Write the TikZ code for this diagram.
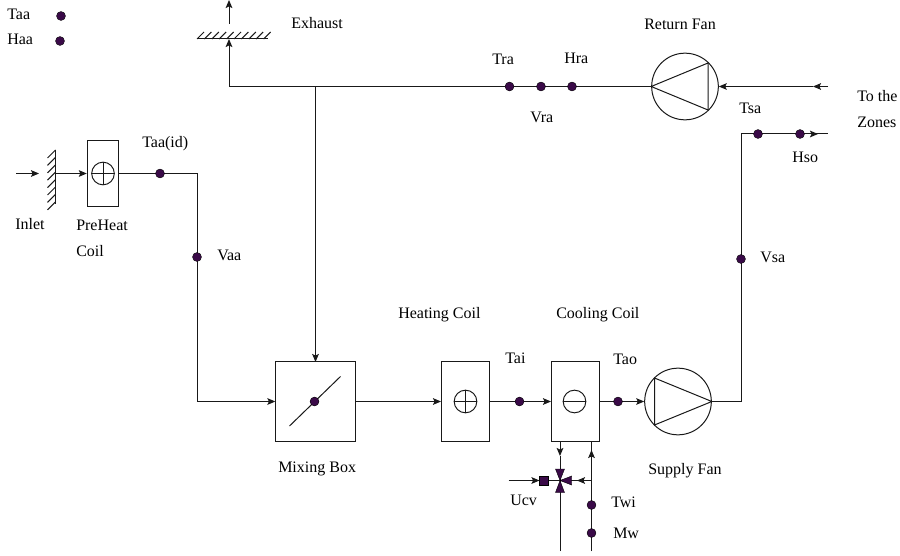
\documentclass[tikz,border=0pt]{standalone}
\usepackage{fontspec}
\setmainfont{Liberation Serif}
\usetikzlibrary{arrows.meta,calc}
\definecolor{dotcol}{HTML}{3A0A48}
\tikzset{
  wire/.style={draw=black!90,line width=0.75pt},
  arr/.style={wire,-{Stealth[length=6pt,width=5pt,inset=1.2pt]}},
  lab/.style={anchor=base west,inner sep=0pt,yshift=-0.5pt,font=\fontsize{12}{14}\selectfont},
  sensor/.style={circle,fill=dotcol,draw=black,line width=0.3pt,inner sep=0pt,minimum size=6.7pt},
  coil/.style={rectangle,wire,inner sep=0pt,minimum width=36pt,minimum height=59.5pt},
  ring/.style={circle,wire,inner sep=0pt,minimum size=17pt},
  fan/.style={circle,wire,inner sep=0pt,minimum size=50pt},
  vtri/.style={fill=dotcol,draw=black,line width=0.3pt},
}
\begin{document}
\begin{tikzpicture}[x=0.75pt,y=-0.75pt]
\useasboundingbox (0,0) rectangle (900,556);
% labels
\foreach \n/\x/\y/\t in {
 lTaa/7/19/Taa, lHaa/7/44/Haa, lEx/291/28/Exhaust, lTid/142/147/Taa(id), lIn/15/229/Inlet,
 lPre/76/230/PreHeat, lCoil/76/256/Coil, lVaa/217/260/Vaa, lRF/644/29/Return Fan,
 lTra/492/64/Tra, lHra/564/63/Hra, lVra/530/122/Vra, lTsa/739/113/Tsa, lTo/857/101/To the,
 lZo/857/127/Zones, lHso/792/162/Hso, lTai/505/363/Tai, lTao/613/364/Tao, lSF/648/474/Supply Fan,
 lMB/278/472/Mixing Box, lUcv/510/505/Ucv, lTwi/611/507/Twi, lMw/613/538/Mw,
 lHC/398/318/Heating Coil, lCC/556/318/Cooling Coil, lVsa/760/262/Vsa}
  \node[lab] (\n) at (\x,\y) {\t};
% components
\node[coil,minimum width=23.6pt,minimum height=50.2pt] (pre) at (103,173.5) {};
\node[ring] (preR) at (103,173.5) {};
\node[coil,minimum width=59.5pt] (mix) at (315.5,401.5) {};
\node[coil] (hc) at (465.5,401.5) {};
\node[ring] (hcR) at (465.5,401.5) {};
\node[coil] (cc) at (575.5,401.5) {};
\node[ring] (ccR) at (574.5,401.5) {};
\node[fan] (rf) at (685,86.5) {};
\node[fan] (sf) at (678,401.5) {};
% coil symbols
\draw[wire] (preR.north) -- (preR.south) (preR.west) -- (preR.east);
\draw[wire] (hcR.north) -- (hcR.south) (hcR.west) -- (hcR.east);
\draw[wire] (ccR.west) -- (ccR.east);
% fan triangles
\draw[wire] (rf.west) -- (708,63) -- (708,110) -- cycle;
\draw[wire] (sf.east) -- (654.5,378) -- (654.5,425) -- cycle;
% damper
\coordinate (dA) at (289.5,426);
\coordinate (dB) at (340.5,376.5);
\draw[wire] (dA) -- (dB);
% free ends and corners
\coordinate (exTop) at (229,0);
\coordinate (exLow) at (229,24);
\coordinate (exPlate) at (229,39);
\coordinate (exL) at (197,39);
\coordinate (exR) at (268,39);
\coordinate (exCorner) at (229,86.5);
\coordinate (tee) at (315.5,86.5);
\coordinate (rfEnd) at (828,86.5);
\coordinate (rfMid) at (813,86.5);
\coordinate (inFree) at (16,173.5);
\coordinate (inTip) at (39,173.5);
\coordinate (inPlate) at (55.5,173.5);
\coordinate (inT) at (55.5,150);
\coordinate (inB) at (55.5,204);
\coordinate (c1) at (197,173.5);
\coordinate (c2) at (197,401.5);
\coordinate (c3) at (741,401.5);
\coordinate (c4) at (741,134);
\coordinate (zTip) at (818,134);
\coordinate (zEnd) at (828,134);
\coordinate (vC) at (560,480.5);
\coordinate (ccL) at (560,441);
\coordinate (vTop) at (560,456);
\coordinate (vBot) at (560,551);
\coordinate (retB) at (591.5,551);
\coordinate (retT) at (591.5,441);
\coordinate (retM) at (591.5,450);
\coordinate (retJ) at (591.5,480.5);
\coordinate (retA) at (577,480.5);
\coordinate (uFree) at (508.5,480.5);
\coordinate (mixT) at (315.5,362);
% sensors
\foreach \n/\x/\y in {
 sTaa/61/16, sHaa/60/41, sTid/160/173.5, sVaa/197/257, sTra/509.5/86.5, sVra/541/86.5, sHra/572/86.5,
 sTsa/758/134, sHso/800/134, sVsa/741/259, sTai/519.5/401.5, sTao/618/401.5,
 sMix/314.5/401.5, sTwi/591.5/505, sMw/591.5/533}
  \coordinate (\n) at (\x,\y);
% connectors
\draw[arr] (exLow) -- (exTop);
\draw[arr] (exCorner) -- (exPlate);
\draw[wire] (exL) -- (exR);
\foreach \i in {0,...,9} \draw[wire] ($(exL)+(\i*7.4,0)$) -- ++(7,-7);
\draw[wire] (exCorner) -- (rf.west);
\draw[arr] (tee) -- (mixT);
\draw[arr] (rfEnd) -- (rfMid);
\draw[arr] (rfMid) -- (rf.east);
\draw[arr] (inFree) -- (inTip);
\draw[wire] (inT) -- (inB);
\foreach \i in {0,...,7} \draw[wire] ($(inT)+(0,\i*7.4)$) -- ++(-8,8);
\draw[arr] (inPlate) -- (pre.west);
\draw[wire] (pre.east) -- (c1) -- (c2);
\draw[arr] (c2) -- (mix.west);
\draw[arr] (mix.east) -- (hc.west);
\draw[wire] (hc.east) -- (sTai);
\draw[arr] (sTai) -- (cc.west);
\draw[wire] (cc.east) -- (sTao);
\draw[arr] (sTao) -- (sf.west);
\draw[wire] (sf.east) -- (c3) -- (c4) -- (zEnd);
\draw[arr] (c4) -- (zTip);
\draw[arr] (ccL) -- (vTop);
\draw[wire] (vTop) -- (vC);
\draw[wire] (vBot) -- (vC);
\draw[wire] (retB) -- (retT);
\draw[arr] (retB) -- (retM);
\draw[wire] (retJ) -- (vC);
\draw[arr] (retJ) -- (retA);
\draw[arr] (uFree) -- (539.5,480.5);
% three way valve
\draw[vtri] (vC) -- (555.5,469) -- (564.5,469) -- cycle;
\draw[vtri] (vC) -- (555.5,492.5) -- (564.5,492.5) -- cycle;
\draw[vtri] (vC) -- (571.7,476) -- (571.7,485) -- cycle;
\node[rectangle,fill=dotcol,draw=black,line width=0.3pt,inner sep=0pt,minimum size=6.6pt] (act) at (544,480.5) {};
\draw[wire] (act) -- (vC);
% sensor dots
\foreach \n in {sTaa,sHaa,sTid,sVaa,sTra,sVra,sHra,sTsa,sHso,sVsa,sTai,sTao,sMix,sTwi,sMw}
  \node[sensor] (d\n) at (\n) {};
\end{tikzpicture}
\end{document}
